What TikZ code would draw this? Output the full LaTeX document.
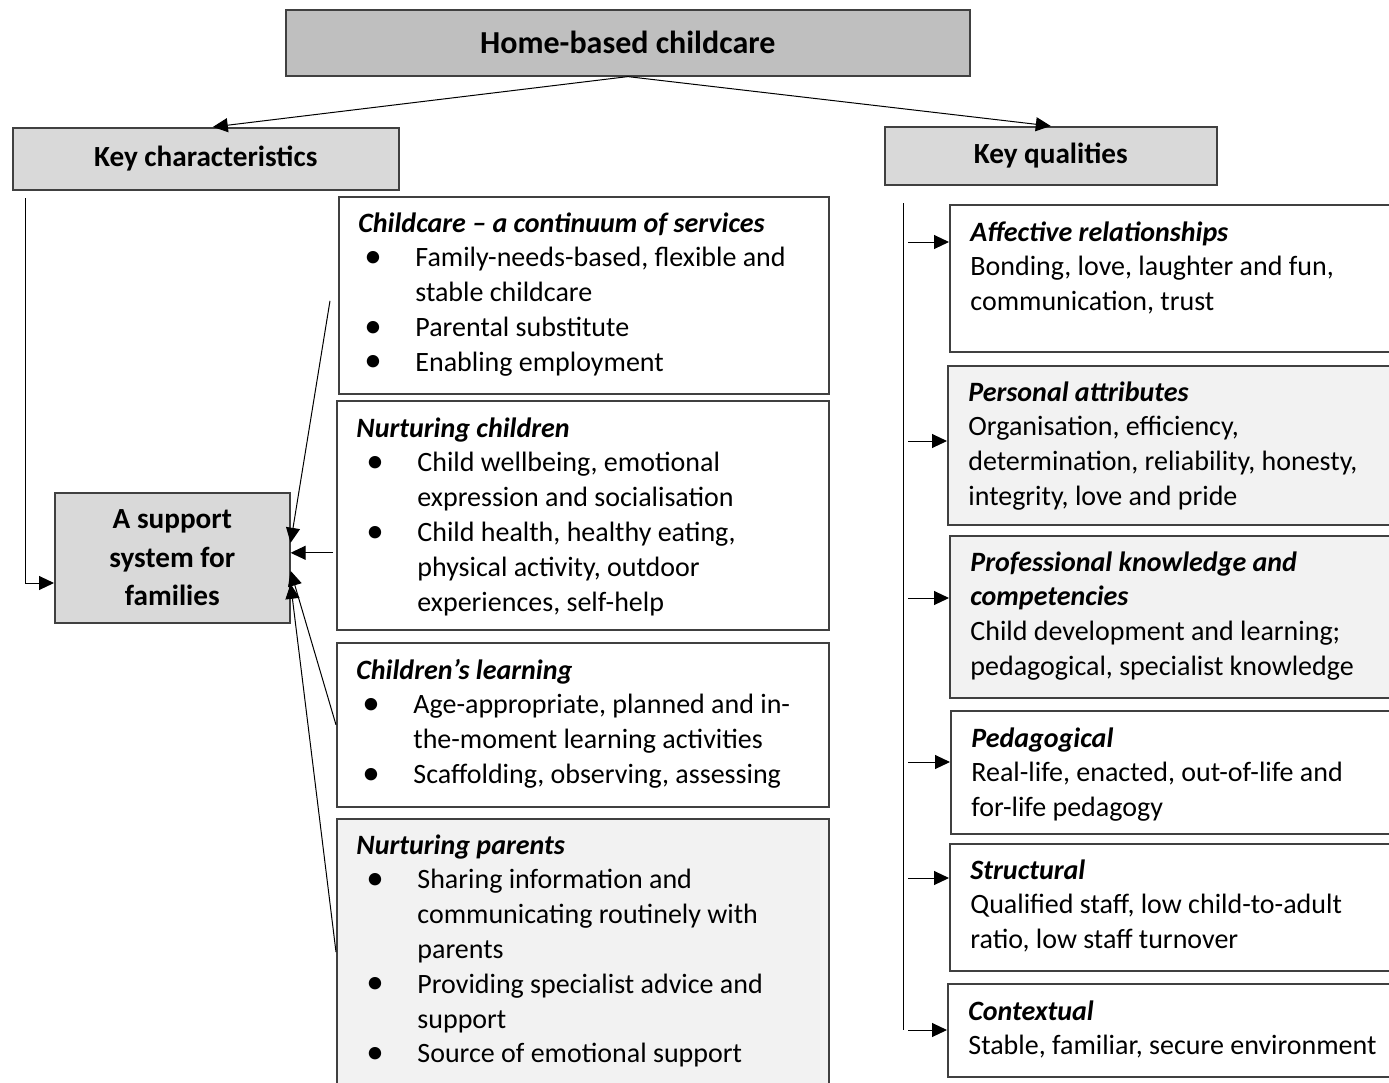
\documentclass[tikz,border=0pt]{standalone}
\usepackage{fontspec}
\setmainfont{Carlito}
\usetikzlibrary{positioning,arrows.meta}
\definecolor{hdgray}{HTML}{BFBFBF}
\definecolor{kygray}{HTML}{D9D9D9}
\definecolor{ltgray}{HTML}{F2F2F2}
\definecolor{edge}{HTML}{404040}
\tikzstyle{block} = [draw=edge, line width=0.8pt, rectangle, inner sep=0pt, anchor=north west]
\tikzstyle{head} = [block, font=\bfseries\fontsize{14.6}{19.2}\selectfont, align=center]
\tikzstyle{txt} = [anchor=base west, inner sep=0pt, font=\fontsize{14}{17.4}\selectfont]
\tikzstyle{arrow} = [->, >={Triangle[length=7.5pt,width=7pt]}, line width=0.5pt]
\newcommand{\bitem}[2][3pt]{\hspace*{#1}\makebox[25.5pt][l]{\raisebox{-0.3pt}{\scalebox{1.25}{\textbullet}}}#2}
\newcommand{\bcont}[2][28.5pt]{\hspace*{#1}#2}
\newcommand{\ttl}[1]{\textbf{\textit{#1}}}
\newcommand{\lines}[1]{\begin{tabular}[t]{@{}l@{}}#1\end{tabular}}

\begin{document}
\begin{tikzpicture}[x=0.5pt, y=-0.5pt]
    \useasboundingbox (0,0) rectangle (1389,1083);
    \clip (0,0) rectangle (1389,1083);

    % top and the two branches
    \node[head, fill=hdgray, minimum width=342pt, minimum height=33pt, font=\bfseries\fontsize{16}{19}\selectfont] (home) at (285,9) {Home-based childcare};
    \node[head, fill=kygray, minimum width=193pt, minimum height=31pt] (keych) at (12,127) {Key characteristics};
    \node[head, fill=kygray, minimum width=166pt, minimum height=29pt] (keyq) at (884,126) {Key qualities};
    \node[head, fill=kygray, minimum width=117.5pt, minimum height=65pt, text depth=0pt] (support) at (54,492) {A support\\system for\\families};

    % characteristics boxes
    \node[block, fill=white , minimum width=245pt, minimum height=98.5pt] (cont)   at (338,196) {};
    \node[block, fill=white , minimum width=246pt, minimum height=114.5pt] (nchild) at (336,400) {};
    \node[block, fill=white , minimum width=246pt, minimum height=82pt]   (learn)  at (336,642) {};
    \node[block, fill=ltgray, minimum width=246pt, minimum height=150pt]  (npar)   at (336,818) {};

    \node[txt] (tcont) at (358,232) {\lines{\ttl{Childcare – a continuum of services}\\
        \bitem{Family-needs-based, flexible and}\\ \bcont{stable childcare}\\
        \bitem{Parental substitute}\\ \bitem{Enabling employment}}};
    \node[txt] (tnchild) at (356,437) {\lines{\ttl{Nurturing children}\\
        \bitem[5pt]{Child wellbeing, emotional}\\ \bcont[30.5pt]{expression and socialisation}\\
        \bitem[5pt]{Child health, healthy eating,}\\ \bcont[30.5pt]{physical activity, outdoor}\\
        \bcont[30.5pt]{experiences, self-help}}};
    \node[txt] (tlearn) at (356,679) {\lines{\ttl{Children’s learning}\\
        \bitem{Age-appropriate, planned and in-}\\ \bcont{the-moment learning activities}\\
        \bitem{Scaffolding, observing, assessing}}};
    \node[txt] (tnpar) at (356,854) {\lines{\ttl{Nurturing parents}\\
        \bitem[5pt]{Sharing information and}\\ \bcont[30.5pt]{communicating routinely with}\\
        \bcont[30.5pt]{parents}\\ \bitem[5pt]{Providing specialist advice and}\\
        \bcont[30.5pt]{support}\\ \bitem[5pt]{Source of emotional support}}};

    % qualities boxes
    \node[block, fill=white , minimum width=230pt, minimum height=73.5pt] (aff)   at (949,204) {};
    \node[block, fill=ltgray, minimum width=232pt, minimum height=79.5pt] (pers)  at (947,365) {};
    \node[block, fill=ltgray, minimum width=230pt, minimum height=81pt]   (prof)  at (949,535) {};
    \node[block, fill=white , minimum width=230pt, minimum height=61.5pt] (peda)  at (950,710) {};
    \node[block, fill=white , minimum width=230pt, minimum height=63.5pt] (struc) at (949,843) {};
    \node[block, fill=white , minimum width=232pt, minimum height=46.5pt] (ctx)   at (947,983) {};

    \node[txt] (taff)   at (970,241)  {\lines{\ttl{Affective relationships}\\Bonding, love, laughter and fun,\\communication, trust}};
    \node[txt] (tpers)  at (968,401)  {\lines{\ttl{Personal attributes}\\Organisation, efficiency,\\determination, reliability, honesty,\\integrity, love and pride}};
    \node[txt] (tprof)  at (970,571)  {\lines{\ttl{Professional knowledge and}\\\ttl{competencies}\\Child development and learning;\\pedagogical, specialist knowledge}};
    \node[txt] (tpeda)  at (971,747)  {\lines{\ttl{Pedagogical}\\Real-life, enacted, out-of-life and\\for-life pedagogy}};
    \node[txt] (tstruc) at (970,879)  {\lines{\ttl{Structural}\\Qualified staff, low child-to-adult\\ratio, low staff turnover}};
    \node[txt] (tctx)   at (968,1020) {\lines{\ttl{Contextual}\\Stable, familiar, secure environment}};

    % connectors
    \draw[arrow] (home.south) -- ([xshift=3.5pt]keych.north);
    \draw[arrow] (home.south) -- (keyq.north);

    \coordinate (kcdrop) at (25,198);
    \coordinate (kcturn) at (25,583);
    \draw[arrow] (kcdrop) -- (kcturn) -- (kcturn -| support.west);

    \draw[arrow] ([xshift=-4pt,yshift=-2.75pt]cont.west) -- ([yshift=7.5pt]support.east);
    \draw[arrow] ([xshift=-1.5pt,yshift=-18.75pt]nchild.west) -- ([yshift=2.5pt]support.east);
    \draw[arrow] (learn.west) -- ([yshift=-6.5pt]support.east);
    \draw[arrow] ([yshift=-67pt]npar.north west) -- ([yshift=-13pt]support.east);

    \coordinate (kqtop) at (903,203);
    \coordinate (kqbot) at (903,1030);
    \draw[line width=0.5pt] (kqtop) -- (kqbot);
    \foreach \b/\y in {aff/242,pers/441,prof/598,peda/762,struc/878,ctx/1030}{
        \coordinate (s\b) at (908,\y);
        \draw[arrow] (s\b) -- (s\b -| \b.west);
    }

\end{tikzpicture}
\end{document}
